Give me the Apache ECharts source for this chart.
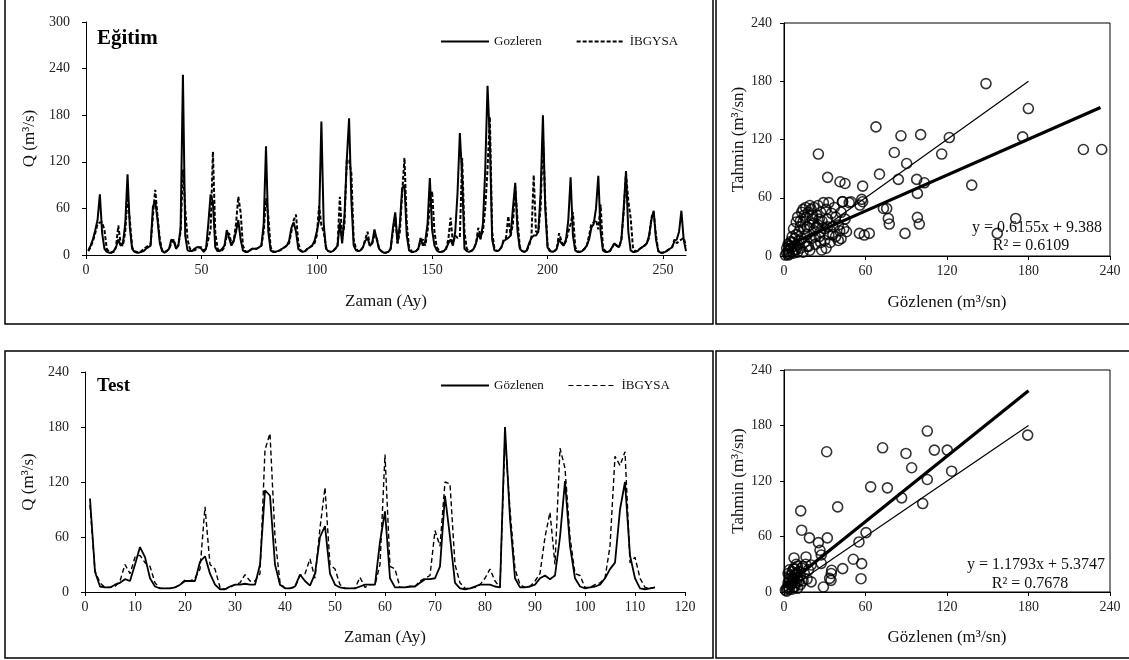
<!DOCTYPE html>
<html><head><meta charset="utf-8">
<script src="https://cdn.jsdelivr.net/npm/echarts@6/dist/echarts.min.js"></script>
<style>html,body{margin:0;padding:0;background:#fff}#c{width:1129px;height:660px}</style>
</head><body><div id="c"></div><script>
// ---------- DATA ----------
const trainObs = [
 6,12,20,32,45,78,28,8,4,3,3,5,
 10,20,12,15,40,104,35,8,4,3,3,4,
 5,8,10,12,62,70,45,15,5,3,5,8,
 20,18,8,12,35,232,25,6,5,5,8,10,
 10,8,4,8,40,78,68,10,5,5,8,12,
 32,22,12,18,30,45,20,6,4,4,6,8,
 8,8,10,12,40,140,30,6,4,4,5,6,
 8,10,12,18,35,42,30,8,5,4,5,8,
 10,12,18,30,45,172,40,8,5,4,5,8,
 12,42,15,50,122,176,70,12,6,5,6,10,
 18,22,12,15,33,20,8,5,3,3,4,8,
 35,55,15,40,86,90,25,6,4,4,5,8,
 22,12,18,40,99,32,12,6,4,4,5,8,
 15,20,12,30,80,157,100,8,5,4,5,8,
 15,28,20,40,110,218,148,20,6,5,6,10,
 18,20,22,25,60,93,30,8,5,4,6,15,
 22,25,25,30,80,180,60,10,5,4,5,8,
 20,15,12,20,45,100,25,6,4,4,5,8,
 12,20,35,40,60,102,30,6,4,4,5,10,
 15,12,10,20,60,108,30,6,4,4,5,8,
 10,12,15,25,45,57,20,5,3,3,4,6,
 8,10,18,20,30,57,20,5
];
const trainPred = [
 5,10,18,28,40,42,42,32,8,4,3,4,
 10,38,15,12,30,75,45,10,5,4,4,5,
 8,10,12,14,50,84,50,20,6,4,5,8,
 15,20,10,12,30,110,60,20,8,6,6,8,
 10,10,6,8,20,33,133,30,8,5,6,10,
 25,28,15,18,40,75,55,12,5,4,6,8,
 8,8,10,12,30,73,50,10,5,4,5,6,
 8,10,12,15,30,45,52,15,6,4,5,8,
 10,12,15,25,63,38,30,10,5,4,5,8,
 12,75,20,40,122,122,105,20,8,5,6,10,
 20,30,12,15,25,22,8,5,3,3,4,8,
 30,50,15,30,79,125,40,10,5,4,5,8,
 18,20,12,30,64,82,30,10,6,4,5,8,
 20,48,15,25,22,23,125,30,8,5,5,8,
 15,35,25,30,60,110,178,30,8,5,6,10,
 20,22,50,25,40,88,45,10,5,4,6,12,
 22,103,30,30,60,152,70,12,6,4,5,8,
 28,18,12,18,30,40,55,10,5,4,5,8,
 12,25,40,42,45,33,65,10,5,4,5,10,
 15,12,10,20,55,105,70,48,10,5,5,8,
 10,12,15,22,48,55,25,5,3,3,4,6,
 8,10,20,15,18,20,22,12
];
const testObs = [
 102,22,6,5,5,8,10,14,12,30,
 49,38,15,6,4,4,4,5,8,12,
 12,12,33,39,20,8,3,3,6,8,
 8,9,8,8,30,111,105,30,8,4,
 4,6,19,12,7,20,60,72,20,8,
 5,4,4,4,6,8,8,8,55,88,
 15,5,5,5,6,6,10,14,14,15,
 28,105,60,10,4,3,4,6,8,8,
 8,6,5,180,80,15,5,5,6,8,
 15,18,14,18,60,121,50,15,6,4,
 5,6,8,15,25,32,90,120,40,15,
 4,3,4,5
];
const testPred = [
 95,23,10,5,5,6,12,30,20,38,
 40,32,28,10,4,4,4,5,8,13,
 12,15,25,93,30,25,5,3,5,8,
 10,19,12,12,20,155,173,60,10,4,
 4,5,18,20,36,15,70,114,30,25,
 8,4,4,4,16,5,8,8,30,150,
 28,25,5,5,6,6,12,15,18,67,
 50,120,118,30,10,4,4,5,8,15,
 25,12,5,170,90,25,8,5,6,12,
 20,60,87,30,157,135,60,20,18,5,
 5,8,10,15,50,148,138,153,32,38,
 15,5,4,5
];
const trainScatter = [
 [148.7,177.6],[179.9,151.9],[175.7,122.7],[220.4,109.7],[233.9,109.7],[170.6,38.7],[157,23.3],
 [138.2,73],[121.7,122],[116.1,105],[100.6,125],[86.1,123.8],[67.7,133],[81.2,106.6],[90.3,95.3],
 [70.3,84.3],[97.7,78.9],[103.3,75.4],[84.2,78.9],[98.2,64.5],[98.2,39.8],[99.6,32.9],[76.8,38.7],
 [77.5,32.9],[73.2,49],[75.6,49],[89.1,23.3],[55.5,23.3],[59.1,21.6],[62.8,23.3],[25.3,105],
 [32.1,81],[41.2,76.5],[44.9,74.7],[57.9,72],[57.2,58.3],[57.9,55.9],[55.9,52.5],[49.3,55.9],
 [43.2,55.9],[27.7,6.2],
 [2,3],[3,5],[4,2],[5,8],[6,4],[3,12],[5,15],[7,10],[8,6],[8,18],[10,12],[9,22],[11,25],[12,8],
 [12,30],[13,18],[14,35],[15,28],[15,14],[16,40],[17,22],[18,45],[18,10],[19,32],[20,48],[20,18],
 [21,38],[22,26],[22,50],[23,12],[24,42],[25,32],[25,52],[26,20],[27,45],[28,36],[29,55],
 [30,28],[30,16],[31,48],[32,38],[33,55],[33,22],[34,14],[35,44],[36,30],[37,50],[38,20],[38,40],
 [40,32],[40,16],[42,45],[42,18],[43,56],[44,28],[45,38],[46,25],[48,55],[6,20],[7,28],[9,35],
 [10,40],[11,16],[13,45],[14,48],[16,50],[19,52],[21,42],[24,30],[26,38],[4,10],[6,14],[7,3],
 [9,7],[10,4],[1,1],[2,8],[3,1],[14,4],[17,10],[19,6],[23,20],[27,25],[32,30],[36,22],[41,26],
 [12,36],[15,42],[17,30],[22,34],[27,14],[31,8]
];
const testScatter = [
 [105.5,174],[179.4,169.6],[72.6,155.9],[89.8,149.8],[110.7,153.4],[120.2,153.4],[31.4,151.6],
 [94,134.3],[123.4,130.6],[105.5,121.6],[63.8,113.7],[76.1,112.6],[86.6,101.8],[102.1,95.6],
 [39.5,92],[12.3,87.7],[13,66.8],[60.4,64.2],[55.2,54.1],[18.7,58.5],[31.9,58.5],[25.3,53.4],
 [26.5,45.1],[7.4,36.8],[16.2,37.9],[51,35.4],[57.2,30.7],[43.2,25.3],[35.1,23.5],[56.7,14.4],
 [29,5.4],[34.6,12.6],[27.4,40],[20,11],[14,27.4],[20,29.2],[27.4,31],[33.6,14.7],[34.8,20],
 [1,2],[2,4],[3,6],[4,3],[5,8],[6,10],[4,14],[5,18],[6,22],[7,5],[7,14],[8,18],[8,25],[9,10],
 [9,20],[10,15],[10,28],[11,22],[12,8],[12,18],[13,26],[14,12],[15,20],[16,30],[17,14],[18,24],
 [3,10],[2,1],[6,3],[8,6],[5,12],[7,25],[10,4],[11,12],[3,20],[4,24],[9,30],[6,16]
];
const trainFit = [[0, 9.4], [233, 153]];
const trainIdeal = [[0, 0], [180, 180]];
const testFit = [[0, 5.4], [180, 217.6]];
const testIdeal = [[0, 0], [180, 180]];
const trainXTicks = [0, 50, 100, 150, 200, 250];
const trainEq = ['y = 0.6155x + 9.388', 'R² = 0.6109'];
const testEq = ['y = 1.1793x + 5.3747', 'R² = 0.7678'];

// ---------- CHART ----------
const FONT = '"Liberation Serif", "Times New Roman", serif';
const toXY = arr => arr.map((v, i) => [i + 1, v]);
const lbl = {fontFamily: FONT, fontSize: 14, color: '#222'};
const nameStyle = {fontFamily: FONT, fontSize: 17, color: '#111'};
const axLine = {show: true, lineStyle: {color: '#000', width: 1}};
const tick = {show: true, length: 4, lineStyle: {color: '#000'}};

function xAx(grid, opts) {
  return Object.assign({
    type: 'value', gridIndex: grid, nameLocation: 'middle', nameGap: 37,
    nameTextStyle: nameStyle, axisLine: axLine, axisTick: tick,
    axisLabel: Object.assign({margin: 8}, lbl), splitLine: {show: false}
  }, opts);
}
function yAx(grid, opts) {
  return Object.assign({
    type: 'value', gridIndex: grid, nameLocation: 'middle', nameRotate: 90,
    nameTextStyle: nameStyle, axisLine: axLine, axisTick: tick,
    axisLabel: Object.assign({margin: 14}, lbl), splitLine: {show: false}
  }, opts);
}

const chart = echarts.init(document.getElementById('c'), null, {renderer: 'canvas'});
chart.setOption({
  backgroundColor: '#fff',
  animation: false,
  title: [
    {text: 'Eğitim', left: 97, top: 28, padding: 0, textStyle: {fontFamily: FONT, fontSize: 21, fontWeight: 'bold', color: '#000'}},
    {text: 'Test', left: 97, top: 377, padding: 0, textStyle: {fontFamily: FONT, fontSize: 19, fontWeight: 'bold', color: '#000'}}
  ],
  legend: [
    {left: 440, top: 35, itemWidth: 48, itemHeight: 10, itemGap: 34, padding: 0,
     itemStyle: {opacity: 0}, textStyle: {fontFamily: FONT, fontSize: 13, color: '#111'},
     data: [{name: 'Gozleren'}, {name: 'İBGYSA'}]},
    {left: 440, top: 379, itemWidth: 48, itemHeight: 10, itemGap: 24, padding: 0,
     itemStyle: {opacity: 0}, textStyle: {fontFamily: FONT, fontSize: 13, color: '#111'},
     data: [{name: 'Gözlenen'}, {name: 'İBGYSA', lineStyle: {type: [5, 3], width: 1.2, color: '#000'}}]}
  ],
  grid: [
    {left: 86, top: 22, width: 600, height: 233},
    {left: 85, top: 372, width: 600, height: 220},
    {left: 784, top: 23, width: 326, height: 233, show: true, borderColor: '#000', borderWidth: 1, backgroundColor: 'transparent'},
    {left: 784, top: 370, width: 326, height: 222, show: true, borderColor: '#000', borderWidth: 1, backgroundColor: 'transparent'}
  ],
  xAxis: [
    xAx(0, {min: 0, max: 260, name: 'Zaman (Ay)', nameGap: 38,
      axisLabel: Object.assign({margin: 8, customValues: trainXTicks}, lbl),
      axisTick: Object.assign({customValues: trainXTicks}, tick)}),
    xAx(1, {min: 0, max: 120, interval: 10, name: 'Zaman (Ay)', nameGap: 37}),
    xAx(2, {min: 0, max: 240, interval: 60, name: 'Gözlenen (m³/sn)', nameGap: 38}),
    xAx(3, {min: 0, max: 240, interval: 60, name: 'Gözlenen (m³/sn)', nameGap: 37})
  ],
  yAxis: [
    yAx(0, {min: 0, max: 300, interval: 60, name: 'Q (m³/s)', nameGap: 46, axisLabel: Object.assign({margin: 16}, lbl)}),
    yAx(1, {min: 0, max: 240, interval: 60, name: 'Q (m³/s)', nameGap: 45, axisLabel: Object.assign({margin: 16}, lbl)}),
    yAx(2, {min: 0, max: 240, interval: 60, name: 'Tahmin (m³/sn)', nameGap: 37, axisLabel: Object.assign({margin: 12}, lbl)}),
    yAx(3, {min: 0, max: 240, interval: 60, name: 'Tahmin (m³/sn)', nameGap: 37, axisLabel: Object.assign({margin: 12}, lbl)})
  ],
  series: [
    {name: 'İBGYSA', type: 'line', xAxisIndex: 0, yAxisIndex: 0, data: toXY(trainPred), symbol: 'none',
     lineStyle: {color: '#000', width: 2, type: [4, 2]}, itemStyle: {color: '#000'}},
    {name: 'Gozleren', type: 'line', xAxisIndex: 0, yAxisIndex: 0, data: toXY(trainObs), symbol: 'none',
     lineStyle: {color: '#000', width: 2}, itemStyle: {color: '#000'}},
    {name: 'İBGYSA', type: 'line', xAxisIndex: 1, yAxisIndex: 1, data: toXY(testPred), symbol: 'none',
     lineStyle: {color: '#000', width: 1.4, type: [5, 3]}, itemStyle: {color: '#000'}},
    {name: 'Gözlenen', type: 'line', xAxisIndex: 1, yAxisIndex: 1, data: toXY(testObs), symbol: 'none',
     lineStyle: {color: '#000', width: 1.8}, itemStyle: {color: '#000'}},
    {name: 'trainPts', type: 'scatter', xAxisIndex: 2, yAxisIndex: 2, data: trainScatter, symbol: 'circle', symbolSize: 10,
     itemStyle: {color: 'rgba(255,255,255,0)', borderColor: '#000', borderWidth: 1.6}},
    {name: 'trainFit', type: 'line', xAxisIndex: 2, yAxisIndex: 2, data: trainFit, symbol: 'none',
     lineStyle: {color: '#000', width: 3.2}},
    {name: 'trainIdeal', type: 'line', xAxisIndex: 2, yAxisIndex: 2, data: trainIdeal, symbol: 'none',
     lineStyle: {color: '#000', width: 1.2}},
    {name: 'testPts', type: 'scatter', xAxisIndex: 3, yAxisIndex: 3, data: testScatter, symbol: 'circle', symbolSize: 10,
     itemStyle: {color: 'rgba(255,255,255,0)', borderColor: '#000', borderWidth: 1.6}},
    {name: 'testFit', type: 'line', xAxisIndex: 3, yAxisIndex: 3, data: testFit, symbol: 'none',
     lineStyle: {color: '#000', width: 3.2}},
    {name: 'testIdeal', type: 'line', xAxisIndex: 3, yAxisIndex: 3, data: testIdeal, symbol: 'none',
     lineStyle: {color: '#000', width: 1.2}}
  ],
  graphic: [
    {type: 'text', x: 1102, y: 228, silent: true, style: {text: trainEq[0], font: '16px ' + FONT, fill: '#111', align: 'right', verticalAlign: 'middle'}},
    {type: 'text', x: 1031, y: 246, silent: true, style: {text: trainEq[1], font: '16px ' + FONT, fill: '#111', align: 'center', verticalAlign: 'middle'}},
    {type: 'text', x: 1105, y: 565, silent: true, style: {text: testEq[0], font: '16px ' + FONT, fill: '#111', align: 'right', verticalAlign: 'middle'}},
    {type: 'text', x: 1030, y: 584, silent: true, style: {text: testEq[1], font: '16px ' + FONT, fill: '#111', align: 'center', verticalAlign: 'middle'}},
    // panel borders
    {type: 'polyline', silent: true, shape: {points: [[5, 0], [5, 324], [713, 324], [713, 0]]}, style: {stroke: '#000', lineWidth: 1.5, fill: null}},
    {type: 'polyline', silent: true, shape: {points: [[716, 0], [716, 324], [1129, 324]]}, style: {stroke: '#000', lineWidth: 1.5, fill: null}},
    {type: 'rect', silent: true, shape: {x: 5, y: 351, width: 708, height: 307}, style: {stroke: '#000', lineWidth: 1.5, fill: null}},
    {type: 'polyline', silent: true, shape: {points: [[1129, 351], [716, 351], [716, 658], [1129, 658]]}, style: {stroke: '#000', lineWidth: 1.5, fill: null}}
  ]
});
</script></body></html>
